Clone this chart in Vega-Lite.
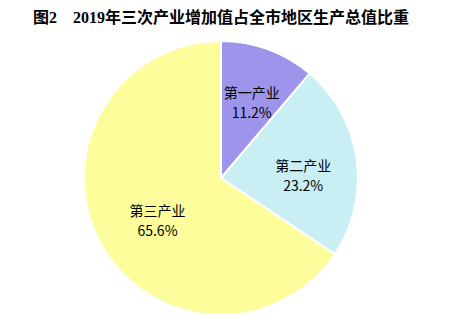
{
  "$schema": "https://vega.github.io/schema/vega-lite/v6.json",
  "width": 442,
  "height": 298,
  "padding": {"left": 0, "top": 10, "right": 8, "bottom": 0},
  "background": "white",
  "title": {
    "text": "图2　2019年三次产业增加值占全市地区生产总值比重",
    "anchor": "start",
    "frame": "group",
    "dx": 33,
    "font": "Liberation Serif, Noto Sans CJK SC",
    "fontSize": 16,
    "fontWeight": "bold",
    "color": "#000000",
    "offset": 3
  },
  "data": {
    "values": [
      {"category": "第一产业", "value": 11.2, "order": 1},
      {"category": "第二产业", "value": 23.2, "order": 2},
      {"category": "第三产业", "value": 65.6, "order": 3}
    ]
  },
  "transform": [
    {"stack": "value", "groupby": [], "sort": [{"field": "order"}], "as": ["v0", "v1"]},
    {"calculate": "(datum.v0 + datum.v1) / 2", "as": "mid"},
    {"calculate": "[datum.category, format(datum.value, '.1f') + '%']", "as": "label"}
  ],
  "layer": [
    {
      "mark": {"type": "arc", "radius": 137, "stroke": "white", "strokeWidth": 2},
      "encoding": {
        "theta": {"field": "v0", "type": "quantitative", "stack": null, "scale": {"domain": [0, 100]}},
        "theta2": {"field": "v1"},
        "color": {
          "field": "category",
          "type": "nominal",
          "sort": ["第一产业", "第二产业", "第三产业"],
          "scale": {"domain": ["第一产业", "第二产业", "第三产业"], "range": ["#9d95ec", "#c9eff5", "#fdfd9b"]},
          "legend": null
        }
      }
    },
    {
      "transform": [{"filter": "datum.order == 1"}],
      "mark": {"type": "text", "radius": 89, "font": "Noto Sans CJK SC", "fontSize": 14, "color": "#000000", "lineHeight": 20, "baseline": "middle"},
      "encoding": {
        "theta": {"field": "mid", "type": "quantitative", "stack": null, "scale": {"domain": [0, 100]}},
        "text": {"field": "label"}
      }
    },
    {
      "transform": [{"filter": "datum.order == 2"}],
      "mark": {"type": "text", "radius": 83, "font": "Noto Sans CJK SC", "fontSize": 14, "color": "#000000", "lineHeight": 20, "baseline": "middle"},
      "encoding": {
        "theta": {"field": "mid", "type": "quantitative", "stack": null, "scale": {"domain": [0, 100]}},
        "text": {"field": "label"}
      }
    },
    {
      "transform": [{"filter": "datum.order == 3"}],
      "mark": {"type": "text", "radius": 72, "font": "Noto Sans CJK SC", "fontSize": 14, "color": "#000000", "lineHeight": 20, "baseline": "middle"},
      "encoding": {
        "theta": {"field": "mid", "type": "quantitative", "stack": null, "scale": {"domain": [0, 100]}},
        "text": {"field": "label"}
      }
    }
  ],
  "config": {"view": {"stroke": null}}
}
